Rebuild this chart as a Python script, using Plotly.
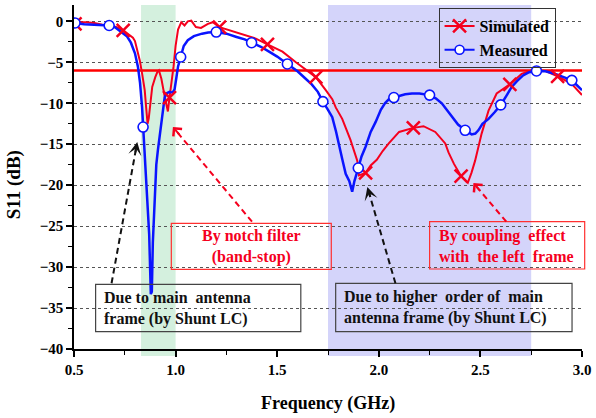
import plotly.graph_objects as go

# ---------------- data ----------------
freq_sim = [0.50, 0.505, 0.53, 0.56, 0.60, 0.64, 0.68, 0.71, 0.742, 0.77, 0.79, 0.80, 0.812,
            0.824, 0.836, 0.848, 0.855, 0.862, 0.868, 0.875, 0.885, 0.90, 0.91, 0.918, 0.93,
            0.945, 0.955, 0.962, 0.97, 0.98, 0.99, 1.0, 1.012, 1.028, 1.044, 1.06, 1.077, 1.10,
            1.125, 1.159, 1.183, 1.216, 1.265, 1.33, 1.395, 1.452, 1.526, 1.592, 1.64, 1.69,
            1.739, 1.771, 1.788, 1.82, 1.861, 1.894, 1.902, 1.935, 1.96, 1.99, 2.02, 2.049,
            2.10, 2.17, 2.22, 2.278, 2.327, 2.343, 2.37, 2.405, 2.438, 2.456, 2.474, 2.49,
            2.506, 2.54, 2.58, 2.645, 2.703, 2.75, 2.818, 2.88, 2.948, 3.0]
s11_sim = [-0.3, -0.3, -0.1, -0.1, -0.2, -0.4, -0.5, -0.7, -1.1, -1.6, -2.0, -2.4, -3.5,
           -4.8, -6.5, -8.4, -10.5, -12.5, -11.8, -10.0, -8.0, -6.8, -6.2, -6.0, -7.0,
           -9.0, -10.5, -11.0, -9.3, -7.5, -5.5, -3.0, -1.0, -0.1, -0.5, 0.0, 0.1, -0.7,
           -0.8, -0.3, -0.1, -0.7, -1.1, -1.6, -2.1, -2.8, -3.7, -5.0, -5.9, -6.8,
           -8.4, -9.5, -10.5, -11.9, -14.5, -17.0, -18.8, -18.5, -17.6, -16.9, -15.8, -14.9,
           -13.5, -13.0, -12.8, -13.5, -14.9, -16.0, -17.4, -18.9, -19.7, -18.5, -17.0, -15.3,
           -13.7, -10.9, -8.8, -7.7, -6.4, -6.0, -6.05, -6.7, -7.6, -9.0]
sim_marker_freq = [0.505, 0.742, 0.97, 1.216, 1.452, 1.69, 1.935, 2.17, 2.405, 2.645, 2.88]
sim_marker_s11 = [-0.3, -1.1, -9.3, -0.7, -2.8, -6.8, -18.5, -13.0, -18.9, -7.7, -6.7]

freq_meas = [0.50, 0.505, 0.55, 0.60, 0.64, 0.673, 0.70, 0.73, 0.76, 0.78, 0.80, 0.815, 0.825,
             0.835, 0.84, 0.85, 0.86, 0.87, 0.878, 0.883, 0.888, 0.897, 0.905, 0.913, 0.93,
             0.946, 0.955, 0.97, 0.985, 0.995, 1.003, 1.012, 1.025, 1.04, 1.06, 1.09, 1.13,
             1.16, 1.20, 1.25, 1.30, 1.34, 1.374, 1.42, 1.46, 1.50, 1.55, 1.60, 1.64, 1.67,
             1.70, 1.725, 1.75, 1.771, 1.79, 1.804, 1.82, 1.837, 1.855, 1.869, 1.88, 1.899,
             1.915, 1.935, 1.96, 1.984, 2.01, 2.03, 2.05, 2.074, 2.10, 2.13, 2.163, 2.20, 2.25,
             2.28, 2.31, 2.34, 2.36, 2.39, 2.425, 2.457, 2.475, 2.49, 2.51, 2.54, 2.57, 2.60,
             2.63, 2.654, 2.68, 2.71, 2.74, 2.776, 2.82, 2.866, 2.91, 2.95, 2.975, 3.0]
s11_meas = [-0.2, -0.2, -0.35, -0.4, -0.45, -0.5, -0.7, -1.2, -1.8, -2.6, -3.9, -5.6, -7.5,
            -10.5, -12.9, -17.0, -21.5, -26.0, -33.3, -33.0, -27.0, -21.8, -17.5, -15.7, -12.1,
            -9.3, -8.8, -8.6, -8.7, -8.3, -7.0, -5.5, -4.35, -3.0, -2.3, -1.8, -1.5,
            -1.35, -1.3, -1.5, -1.9, -2.2, -2.6, -3.1, -3.7, -4.3, -5.2, -6.1, -7.0, -7.7,
            -8.6, -9.8, -10.8, -11.7, -13.5, -14.9, -16.8, -18.6, -19.5, -20.8, -19.5, -17.9,
            -16.5, -15.3, -13.5, -12.3, -10.8, -10.0, -9.5, -9.3, -9.1, -8.9, -8.8, -8.8, -9.0,
            -9.4, -10.0, -11.0, -11.7, -12.6, -13.3, -13.8, -13.7, -13.3, -12.5, -11.9, -11.1, -10.2,
            -9.0, -8.0, -7.3, -6.6, -6.2, -6.05, -6.1, -6.4, -6.8, -7.2, -7.8, -8.4]
meas_marker_freq = [0.505, 0.673, 0.84, 1.025, 1.20, 1.374, 1.55, 1.725, 1.899, 2.074, 2.25,
                    2.425, 2.60, 2.776, 2.95]
meas_marker_s11 = [-0.2, -0.5, -12.9, -4.35, -1.3, -2.6, -5.2, -9.8, -17.9, -9.3, -9.0,
                   -13.3, -10.2, -6.05, -7.2]

threshold_db = -6.0
x_range = [0.5, 3.0]
y_range = [-40, 2]
green_band = [0.83, 1.0]
blue_band = [1.75, 2.75]

# ---------------- layout helpers (pixel -> paper) ----------------
W, H = 596, 418
L, R, T, B = 74, 12, 5, 69
PW, PH = W - L - R, H - T - B


def xp(px):
    return (px - L) / PW


def yp(py):
    return (H - B - py) / PH


RED = "#f5001e"
BLUE = "#0a14ff"
FONT = "Liberation Serif"

fig = go.Figure()

# threshold line
fig.add_trace(go.Scatter(x=x_range, y=[threshold_db, threshold_db], mode="lines",
                         line=dict(color="#ff0000", width=2.5), showlegend=False,
                         hoverinfo="skip"))
# curves
fig.add_trace(go.Scatter(x=freq_sim, y=s11_sim, mode="lines",
                         line=dict(color=RED, width=2), showlegend=False))
fig.add_trace(go.Scatter(x=freq_meas, y=s11_meas, mode="lines",
                         line=dict(color=BLUE, width=2.5), showlegend=False))
fig.add_trace(go.Scatter(x=sim_marker_freq, y=sim_marker_s11, mode="markers",
                         marker=dict(symbol="x-thin", size=13, line=dict(color=RED, width=2.5)),
                         showlegend=False))
fig.add_trace(go.Scatter(x=meas_marker_freq, y=meas_marker_s11, mode="markers",
                         marker=dict(symbol="circle", size=10, color="white",
                                     line=dict(color=BLUE, width=1.6)),
                         showlegend=False))
# legend entries
fig.add_trace(go.Scatter(x=[None], y=[None], mode="lines+markers", name="Simulated",
                         line=dict(color=RED, width=2),
                         marker=dict(symbol="x-thin", size=13, line=dict(color=RED, width=2.5))))
fig.add_trace(go.Scatter(x=[None], y=[None], mode="lines+markers", name="Measured",
                         line=dict(color=BLUE, width=2),
                         marker=dict(symbol="circle", size=9, color="white",
                                     line=dict(color=BLUE, width=1.6))))

shapes = [
    dict(type="rect", xref="x", yref="paper", x0=green_band[0], x1=green_band[1],
         y0=-0.02, y1=1, fillcolor="rgb(212,240,222)", line=dict(width=0), layer="below"),
    dict(type="rect", xref="x", yref="paper", x0=blue_band[0], x1=blue_band[1],
         y0=-0.02, y1=1, fillcolor="rgb(212,212,250)", line=dict(width=0), layer="below"),
]

# annotation boxes (pixel positions in reference)
boxes = [
    (171.7, 223.3, 332.3, 269.3, "#ff3030"),
    (95.7, 284.3, 301.7, 331.7, "#444444"),
    (431.0, 221.7, 586.7, 269.0, "#ff3030"),
    (336.7, 283.3, 574.0, 331.7, "#444444"),
]
for x0, y0, x1, y1, c in boxes:
    shapes.append(dict(type="rect", xref="paper", yref="paper", x0=xp(x0), x1=xp(x1),
                       y0=yp(y1), y1=yp(y0), line=dict(color=c, width=1.2),
                       fillcolor="rgba(0,0,0,0)", layer="above"))

annotations = []
texts = [
    (252, 247, "By notch filter<br>(band-stop)", RED, "center", "center"),
    (102.5, 308, "Due to main  antenna<br>frame (by Shunt LC)", "#111111", "left", "left"),
    (438.0, 246, "By coupling  effect<br>with  the left  frame", RED, "left", "left"),
    (343.5, 307, "Due to higher  order of  main<br>antenna frame (by Shunt LC)", "#111111", "left", "left"),
]
for px, py, t, c, xa, al in texts:
    annotations.append(dict(x=xp(px), y=yp(py), xref="paper", yref="paper", text=t,
                            showarrow=False, xanchor=xa, yanchor="middle", align=al,
                            font=dict(family=FONT, size=16, color=c, weight="bold")))

# dashed arrows: tail (px), tip (px)
arrows = [
    ((111.7, 283.3), (137.5, 142.0), "#111111", 3),
    ((252.7, 221.7), (173.3, 127.0), RED, 4),
    ((396.7, 283.3), (368.5, 187.0), "#111111", 3),
    ((508.0, 221.7), (475.0, 183.0), RED, 4),
]
for (tx, ty), (hx, hy), c, head in arrows:
    dx, dy = tx - hx, ty - hy
    n = (dx * dx + dy * dy) ** 0.5
    ux, uy = dx / n, dy / n
    shapes.append(dict(type="line", xref="paper", yref="paper",
                       x0=xp(tx), y0=yp(ty), x1=xp(hx + ux * 5), y1=yp(hy + uy * 5),
                       line=dict(color=c, width=2, dash="6px,4px"), layer="above"))
    annotations.append(dict(x=xp(hx), y=yp(hy), xref="paper", yref="paper", text="",
                            showarrow=True, ax=ux * 12, ay=uy * 12, arrowhead=head,
                            arrowsize=1.1, arrowwidth=2, arrowcolor=c, standoff=0))

# axis titles
annotations.append(dict(x=xp(329), y=yp(403), xref="paper", yref="paper",
                        text="Frequency (GHz)", showarrow=False, xanchor="center",
                        yanchor="middle",
                        font=dict(family=FONT, size=18, color="black", weight="bold")))
annotations.append(dict(x=xp(14), y=yp(185), xref="paper", yref="paper",
                        text="S11 (dB)", showarrow=False, textangle=-90, xanchor="center",
                        yanchor="middle",
                        font=dict(family=FONT, size=19, color="black", weight="bold")))

fig.update_layout(
    width=W, height=H,
    margin=dict(l=L, r=R, t=T, b=B),
    paper_bgcolor="white", plot_bgcolor="white",
    shapes=shapes, annotations=annotations,
    showlegend=True,
    legend=dict(x=xp(440), y=yp(8), xanchor="left", yanchor="top",
                bgcolor="rgba(0,0,0,0)", bordercolor="#333333", borderwidth=1,
                font=dict(family=FONT, size=16, color="black", weight="bold"),
                tracegroupgap=0, itemwidth=30),
    font=dict(family=FONT),
)
fig.update_xaxes(range=x_range, showline=True, linecolor="black", linewidth=1.5,
                 ticks="outside", ticklen=6, tickwidth=1.5, tickcolor="black",
                 dtick=0.5, tick0=0.5, tickformat=".1f", showgrid=False, zeroline=False,
                 tickfont=dict(family=FONT, size=15, color="black", weight="bold"),
                 minor=dict(ticks="outside", ticklen=4, tickwidth=1.2, tickcolor="black",
                            dtick=0.25, tick0=0.5, showgrid=False))
fig.update_yaxes(range=y_range, showline=True, linecolor="black", linewidth=1.5,
                 ticks="outside", ticklen=6, tickwidth=1.5, tickcolor="black",
                 tickmode="array", tickvals=[-40, -35, -30, -25, -20, -15, -10, -5, 0],
                 showgrid=True, gridcolor="#555555", gridwidth=1, griddash="3px,3px",
                 zeroline=False,
                 tickfont=dict(family=FONT, size=15, color="black", weight="bold"),
                 minor=dict(ticks="outside", ticklen=4, tickwidth=1.2, tickcolor="black",
                            dtick=2.5, tick0=0, showgrid=False))

fig.write_html("out.html", config={"displayModeBar": False},
               post_script="document.body.style.margin='0';document.body.style.overflow='hidden';")
